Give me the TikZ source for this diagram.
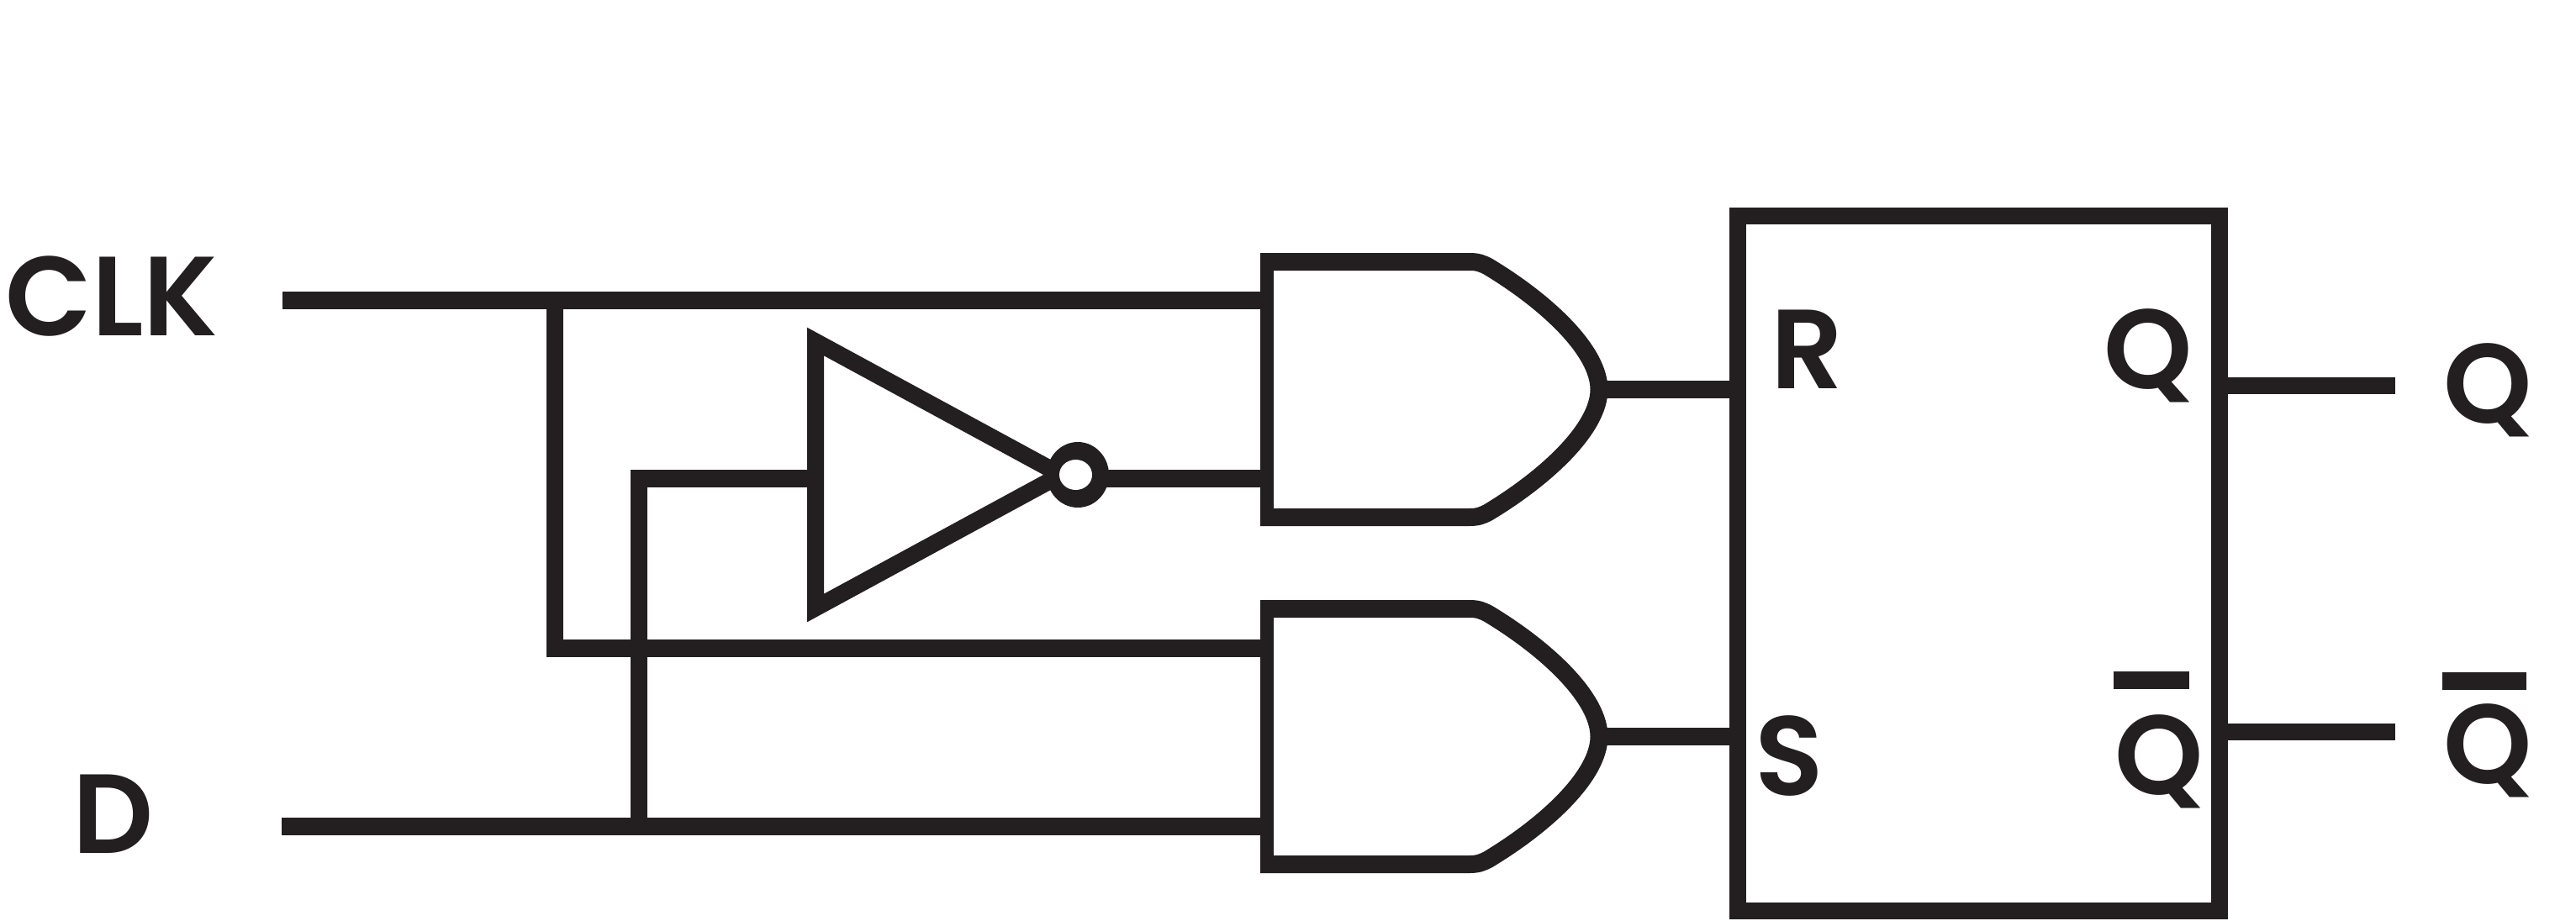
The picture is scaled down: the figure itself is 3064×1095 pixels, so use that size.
\documentclass[tikz,border=0pt]{standalone}
\usepackage{fontspec}
\setmainfont{Poppins SemiBold}
\usetikzlibrary{shapes.geometric}
\definecolor{ink}{HTML}{231F20}
\tikzset{
  wire/.style={draw=ink,line width=21pt},
  thinwire/.style={draw=ink,line width=20pt},
  gatebody/.style={draw=ink,line width=21pt,fill=white,line join=round},
  gateback/.style={draw=ink,line width=16.5pt},
  blockbox/.style={draw=ink,line width=20pt,fill=white,miter limit=10},
  invbody/.style={draw=ink,line width=20pt,fill=white,line join=miter,miter limit=10},
  bubbleout/.style={fill=ink,ellipse,minimum width=74pt,minimum height=78pt,inner sep=0pt,outer sep=0pt},
  bubblein/.style={fill=white,ellipse,minimum width=39pt,minimum height=36pt,inner sep=0pt,outer sep=0pt},
  lbl/.style={text=ink,inner sep=0pt,anchor=base west,font=\fontsize{134}{134}\selectfont}
}
\newcommand{\gateshape}[2]{% name, centre y
  \coordinate (#1c) at (1507,#2);
  \path[gatebody] (1499,#2-152) -- (1748,#2-152)
    .. controls (1758,#2-152) and (1763,#2-150) .. (1770.5,#2-146)
    .. controls (1840,#2-104) and (1902,#2-46) .. (1902,#2)
    .. controls (1902,#2+46) and (1840,#2+104) .. (1770.5,#2+146)
    .. controls (1763,#2+150) and (1758,#2+152) .. (1748,#2+152) -- (1499,#2+152);
  \draw[gateback] (1507,#2-162.5) -- (1507,#2+162.5);
  \coordinate (#1o) at (1902,#2);
}
\begin{document}
\begin{tikzpicture}[x=1pt,y=-1pt]
\useasboundingbox (0,0) rectangle (3064,1095);
% block
\coordinate (boxtl) at (2067,257);
\coordinate (boxbr) at (2640,1084);
\coordinate (boxr) at (2067,463.5);
\coordinate (boxs) at (2067,876.5);
\coordinate (boxq) at (2640,458.5);
\coordinate (boxqb) at (2640,871);
\coordinate (qend) at (2849,458.5);
\coordinate (qbend) at (2849,871);
% input ends
\coordinate (clkin) at (336,357.5);
\coordinate (dend) at (335,983.5);
\coordinate (ru) at (1507,357.5);
\coordinate (rl) at (1507,569.5);
\coordinate (su) at (1507,771.5);
\coordinate (sl) at (1507,983.5);
\coordinate (j1t) at (659.5,357.5);
\coordinate (j1b) at (659.5,782);
\coordinate (j1c) at (659.5,771.5);
\coordinate (j2t) at (759.5,559);
\coordinate (j2c) at (759.5,569.5);
\coordinate (j2b) at (759.5,983.5);
\coordinate (invin) at (970,569.5);
\coordinate (invA) at (970,406.5);
\coordinate (invB) at (970,723.5);
\coordinate (invC) at (1262,565);
% wires
\draw[wire] (clkin) -- (ru);
\draw[wire] (dend) -- (sl);
\draw[thinwire] (j1t) -- (j1b);
\draw[wire] (j1c) -- (su);
\draw[thinwire] (j2t) -- (j2b);
\draw[wire] (j2c) -- (invin);
% gates
\gateshape{R}{463.5}
\gateshape{S}{876.5}
% inverter
\draw[invbody] (invA) -- (invC) -- (invB) -- cycle;
\node[bubbleout] (bub) at (1282,565) {};
\node[bubblein] (bubi) at (1279.5,565) {};
\draw[wire] ([xshift=-8pt,yshift=-4.5pt]bub.east) -- (rl);
% block and outputs
\draw[wire] (Ro) -- (boxr);
\draw[wire] (So) -- (boxs);
\draw[blockbox] (boxtl) rectangle (boxbr);
\draw[thinwire] (boxq) -- (qend);
\draw[thinwire] (boxqb) -- (qbend);
% labels
\node[lbl] (clk) at (6,399) {CLK};
\node[lbl] (d) at (86,1015) {D};
\node[lbl] (r) at (2106,462) {R};
\node[lbl] (s) at (2087,946) {S};
\node[lbl] (q1) at (2502,462) {Q};
\node[lbl] (q2) at (2906,503) {Q};
\node[lbl] (q3) at (2515,945) {Q};
\node[lbl] (q4) at (2906,932) {Q};
\coordinate (b1a) at (2514,809);
\coordinate (b1b) at (2604,809);
\coordinate (b2a) at (2905,810);
\coordinate (b2b) at (3005,810);
\draw[wire] (b1a) -- (b1b);
\draw[wire] (b2a) -- (b2b);
\end{tikzpicture}
\end{document}
